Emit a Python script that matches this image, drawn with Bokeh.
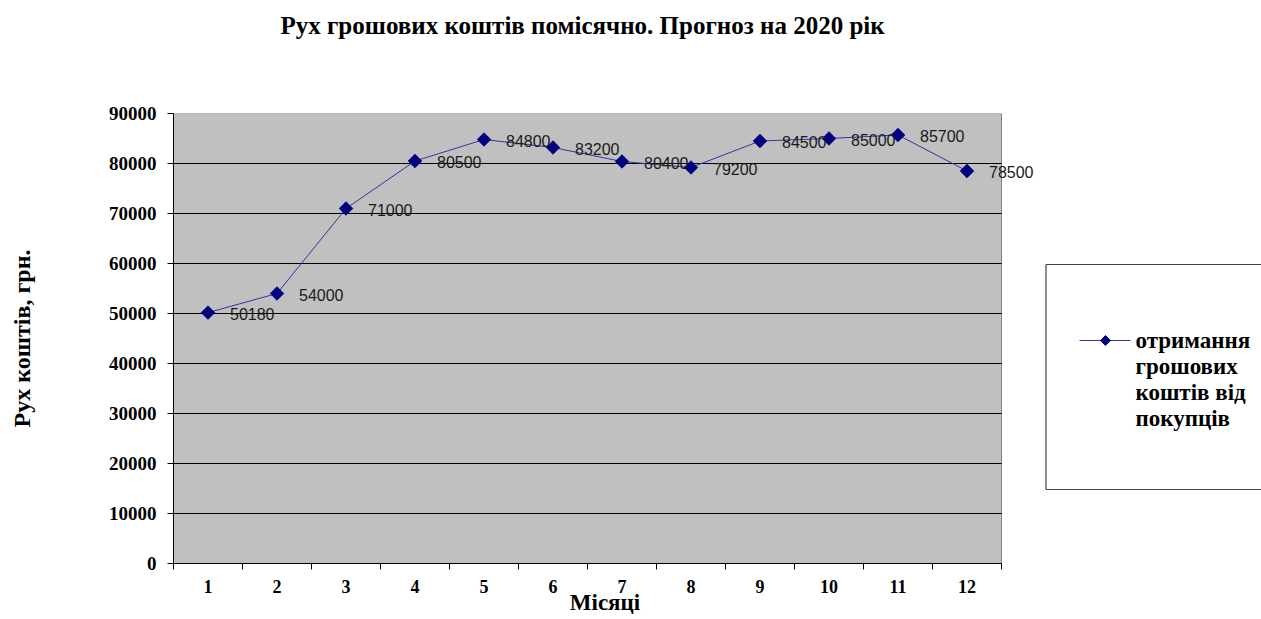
import math
from bokeh.plotting import figure
from bokeh.layouts import row
from bokeh.models import (FixedTicker, Range1d, BasicTickFormatter, LabelSet,
                          ColumnDataSource, LinearAxis, Title)
from bokeh.core.properties import value
from bokeh.embed import file_html
from bokeh.resources import INLINE

# Monthly cash inflow forecast for 2020
months = [1, 2, 3, 4, 5, 6, 7, 8, 9, 10, 11, 12]
receipts = [50180, 54000, 71000, 80500, 84800, 83200, 80400, 79200, 84500, 85000, 85700, 78500]
y_ticks = [0, 10000, 20000, 30000, 40000, 50000, 60000, 70000, 80000, 90000]

title_text = "Рух грошових коштів помісячно. Прогноз на 2020 рік"
y_label = "Рух коштів, грн."
x_label = "Місяці"
legend_lines = ["отримання", "грошових", "коштів від", "покупців"]

SERIF = "Liberation Serif"
SANS = "Liberation Sans"
LINE_COLOR = "#3333a8"
MARK_COLOR = "#000080"
AREA_COLOR = "#c0c0c0"

# page geometry (pixels): the grey plotting area is a little narrower than the
# frame so that value labels near the right edge are not cut off
PAGE_W, H = 1261, 619
W_MAIN = 1036
W_LEGEND = PAGE_W - W_MAIN
FRAME_LEFT, FRAME_TOP, FRAME_BOTTOM = 173, 113, 563
AREA_RIGHT = 1001

X_LO, X_HI = 0.5, 12.5
Y_LO, Y_HI = 0, 90000
x_end = X_LO + (X_HI - X_LO) * (W_MAIN - FRAME_LEFT) / (AREA_RIGHT - FRAME_LEFT)

src = ColumnDataSource(dict(
    x=months,
    y=receipts,
    lbl=[str(v) for v in receipts],
))

p = figure(
    width=W_MAIN, height=H,
    x_range=Range1d(X_LO, x_end), y_range=Range1d(Y_LO, Y_HI),
    output_backend="svg", toolbar_location=None, title=None,
    min_border_left=FRAME_LEFT, min_border_right=0,
    min_border_top=FRAME_TOP, min_border_bottom=H - FRAME_BOTTOM,
    background_fill_color="white", border_fill_color="white",
    outline_line_color=None,
)

# blank top axis: keeps a gap between the title and the plotting area
gap = LinearAxis(ticker=FixedTicker(ticks=[X_LO]), axis_line_color=None,
                 major_tick_line_color="white", minor_tick_line_color=None,
                 major_tick_out=63, major_tick_in=0, major_label_standoff=0,
                 major_label_overrides={X_LO: ""}, major_label_text_font_size="0px")
p.add_layout(gap, "above")

# title, stacked above the gap
title = Title(text=title_text, align="left", offset=107, vertical_align="top",
              standoff=20, text_font=SERIF, text_font_size="25px",
              text_font_style="bold", text_color="black")
p.add_layout(title, "above")

# plotting area: grey field with a grey border on top and right
p.quad(left=[X_LO], right=[X_HI], bottom=[Y_LO], top=[Y_HI],
       fill_color=AREA_COLOR, line_color="#808080", line_width=1)

# horizontal grid lines across the plotting area
inner = [t for t in y_ticks if Y_LO < t < Y_HI]
p.segment(x0=[X_LO] * len(inner), y0=inner, x1=[X_HI] * len(inner), y1=inner,
          line_color="black", line_width=1)

# y axis
ya = p.left[0]
ya.ticker = FixedTicker(ticks=y_ticks)
ya.formatter = BasicTickFormatter(use_scientific=False)
ya.major_label_text_font = SERIF
ya.major_label_text_font_size = "19px"
ya.major_label_text_font_style = "bold"
ya.major_label_text_color = "black"
ya.major_tick_out = 6
ya.major_tick_in = 0
ya.minor_tick_line_color = None
ya.axis_line_color = "black"
ya.major_tick_line_color = "black"
ya.axis_label = y_label
ya.axis_label_text_font = SERIF
ya.axis_label_text_font_size = "24px"
ya.axis_label_text_font_style = "bold"
ya.axis_label_text_color = "black"
ya.axis_label_standoff = 71
ya.major_label_standoff = 11

# x axis: labels at months, tick marks between them
xa = p.below[0]
xa.bounds = (X_LO, X_HI)
xa.ticker = FixedTicker(ticks=months, minor_ticks=[m - 0.5 for m in months] + [X_HI])
xa.major_tick_line_color = None
xa.minor_tick_line_color = "black"
xa.minor_tick_out = 6
xa.minor_tick_in = 0
xa.axis_line_color = "black"
xa.major_label_text_font = SERIF
xa.major_label_text_font_size = "18px"
xa.major_label_text_font_style = "bold"
xa.major_label_text_color = "black"
xa.major_label_standoff = 10
xa.axis_label = x_label
xa.axis_label_text_font = SERIF
xa.axis_label_text_font_size = "23px"
xa.axis_label_text_font_style = "bold"
xa.axis_label_text_color = "black"
xa.axis_label_standoff = -6

p.grid.visible = False

# series
p.line("x", "y", source=src, line_color=LINE_COLOR, line_width=1)
p.scatter("x", "y", source=src, marker="square", angle=math.pi / 4, size=9.5,
          fill_color=MARK_COLOR, line_color=MARK_COLOR)

# value labels to the right of each point
labels = LabelSet(x="x", y="y", text="lbl", source=src, x_offset=22, y_offset=-1,
                  text_align="left", text_baseline="middle",
                  text_font=value(SANS), text_font_size="16px", text_color="#1a1a1a")
p.add_layout(labels)

# legend panel; coordinates run in page pixels
q = figure(
    width=W_LEGEND, height=H,
    x_range=Range1d(W_MAIN, PAGE_W), y_range=Range1d(FRAME_BOTTOM, FRAME_TOP),
    output_backend="svg", toolbar_location=None,
    min_border_left=0, min_border_right=0,
    min_border_top=FRAME_TOP, min_border_bottom=H - FRAME_BOTTOM,
    outline_line_color=None,
    background_fill_color="white", border_fill_color="white",
)
q.axis.visible = False
q.grid.visible = False

box_left, box_top, box_bottom = 1045.5, 264, 489
q.segment(x0=[box_left, box_left, box_left], y0=[box_top, box_bottom, box_top],
          x1=[PAGE_W + 10, PAGE_W + 10, box_left], y1=[box_top, box_bottom, box_bottom],
          line_color="#404040", line_width=1.2)
q.line(x=[1079, 1130], y=[340, 340], line_color=LINE_COLOR, line_width=1)
q.scatter(x=[1105], y=[340], marker="square", angle=math.pi / 4, size=7,
          fill_color=MARK_COLOR, line_color=MARK_COLOR)
q.text(x=[1135] * len(legend_lines), y=[340, 366, 392, 418], text=legend_lines,
       text_align="left", text_baseline="middle",
       text_font=value(SERIF), text_font_size="23px", text_font_style="bold",
       text_color="black")

layout = row(p, q, spacing=0)
open("out.html", "w").write(file_html(layout, INLINE))
